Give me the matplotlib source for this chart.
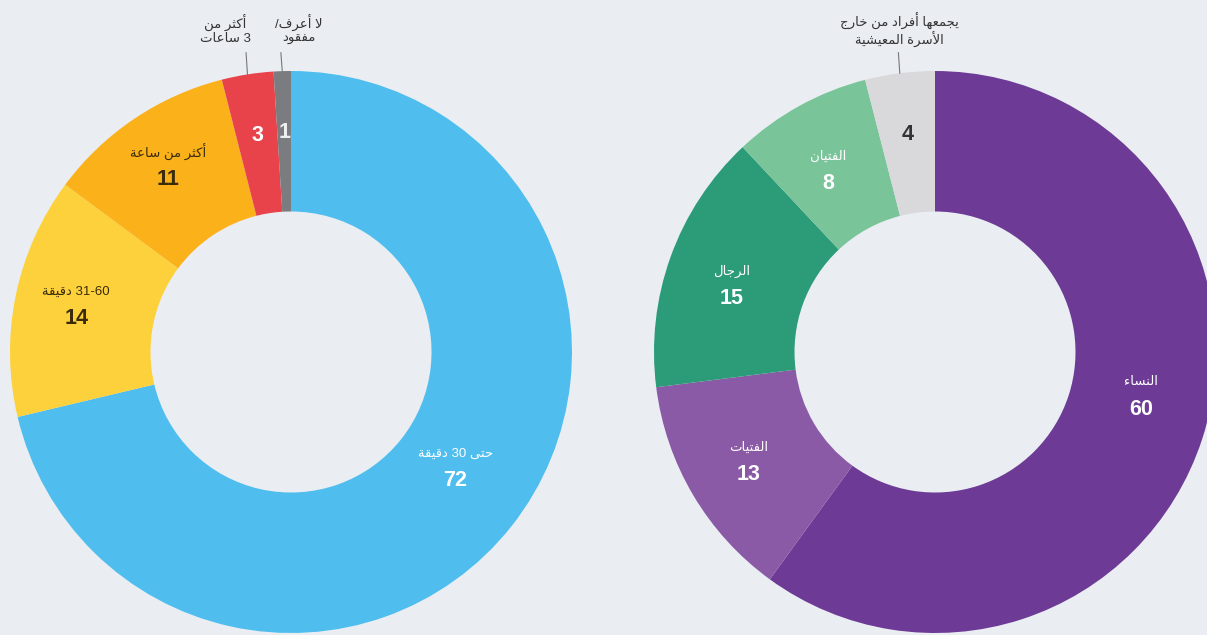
import re
import numpy as np
import matplotlib
matplotlib.use("Agg")
import matplotlib.pyplot as plt

# left donut: waiting time
wait_labels = ["حتى 30 دقيقة", "31-60 دقيقة", "أكثر من ساعة", "أكثر من\n3 ساعات", "لا أعرف/\nمفقود"]
wait_values = [72, 14, 11, 3, 1]
wait_colors = ["#4FBEEF", "#FDD13C", "#FBB11A", "#E8434A", "#7B7C80"]
wait_text = ["white", "#3A2C0A", "#3A2C0A", "white", "#EEEEEE"]
wait_nudge = [(-0.02, 0.065), (-0.01, 0.01), (-0.01, 0.02), (0, 0), (0, 0)]

# right donut: who collects the water
who_labels = ["النساء", "الفتيات", "الرجال", "الفتيان", "يجمعها أفراد من خارج\nالأسرة المعيشية"]
who_values = [60, 13, 15, 8, 4]
who_colors = ["#6D3B95", "#8B5AA6", "#2B9B78", "#7AC49A", "#D9D9DB"]
who_text = ["white", "white", "white", "white", "#333333"]
who_nudge = [(0, 0.08), (0, 0), (0, -0.025), (-0.01, -0.03), (0, 0)]

BG = "#EAEEF3"

# --- tiny arabic shaper (matplotlib does no shaping / bidi) ---
FOUR = {'ب': 0xFE8F, 'ت': 0xFE95, 'ث': 0xFE99, 'ج': 0xFE9D, 'ح': 0xFEA1, 'خ': 0xFEA5,
        'س': 0xFEB1, 'ش': 0xFEB5, 'ص': 0xFEB9, 'ض': 0xFEBD, 'ط': 0xFEC1, 'ظ': 0xFEC5,
        'ع': 0xFEC9, 'غ': 0xFECD, 'ف': 0xFED1, 'ق': 0xFED5, 'ك': 0xFED9, 'ل': 0xFEDD,
        'م': 0xFEE1, 'ن': 0xFEE5, 'ه': 0xFEE9, 'ي': 0xFEF1}
TWO = {'آ': 0xFE81, 'أ': 0xFE83, 'إ': 0xFE87, 'ا': 0xFE8D, 'ة': 0xFE93, 'د': 0xFEA9,
       'ذ': 0xFEAB, 'ر': 0xFEAD, 'ز': 0xFEAF, 'و': 0xFEED, 'ى': 0xFEEF}
LAM_ALEF = {'آ': 0xFEF5, 'أ': 0xFEF7, 'إ': 0xFEF9, 'ا': 0xFEFB}
FORMS = {c: tuple(b + k for k in range(4)) for c, b in FOUR.items()}
FORMS.update({c: (b, b + 1) for c, b in TWO.items()})
FORMS['ء'] = (0xFE80,)


def shape_line(w):
    toks = []
    i = 0
    while i < len(w):
        c = w[i]
        if c == 'ل' and i + 1 < len(w) and w[i + 1] in LAM_ALEF:
            b = LAM_ALEF[w[i + 1]]
            toks.append((b, b + 1))
            i += 2
            continue
        toks.append(FORMS.get(c, c))
        i += 1
    out = []
    for k, t in enumerate(toks):
        if isinstance(t, str):
            out.append(t)
            continue
        prev = toks[k - 1] if k > 0 else None
        nxt = toks[k + 1] if k + 1 < len(toks) else None
        jp = isinstance(prev, tuple) and len(prev) == 4 and len(t) > 1
        jn = len(t) == 4 and isinstance(nxt, tuple) and len(nxt) > 1
        idx = 3 if (jp and jn) else 1 if jp else 2 if jn else 0
        out.append(chr(t[idx]))
    s = ''.join(out)[::-1]
    # numbers stay left-to-right
    return re.sub(r'[0-9]+(?:-[0-9]+)*', lambda m: m.group(0)[::-1], s)


def ar(text):
    return '\n'.join(shape_line(line) for line in text.split('\n'))


plt.rcParams['font.family'] = ['Liberation Sans', 'DejaVu Sans']

fig = plt.figure(figsize=(12.07, 6.35), dpi=100, facecolor=BG)


def donut(cx, labels, values, colors, tcolors, nudge, n_out, out_dx):
    R = 281
    ax = fig.add_axes([(cx - R) / 1207, (283 - R) / 635, 2 * R / 1207, 2 * R / 635])
    ax.set_facecolor(BG)
    wedges, _ = ax.pie(values, colors=colors, startangle=90, counterclock=False,
                       wedgeprops=dict(width=0.5, linewidth=0))
    ax.set_xlim(-1, 1)
    ax.set_ylim(-1, 1)
    ax.set_aspect('equal')
    ax.axis('off')
    n = len(values)
    for i, (w, lab, v) in enumerate(zip(wedges, labels, values)):
        ang = np.deg2rad((w.theta1 + w.theta2) / 2)
        x, y = np.cos(ang), np.sin(ang)
        if i >= n - n_out:
            ax.text(0.78 * x, 0.78 * y, str(v), ha='center', va='center',
                    fontsize=15.5, fontweight='bold', color=tcolors[i])
            ax.plot([x, x - 0.005], [y, 1.065], color='#777777', lw=0.8, clip_on=False)
            ax.text(x + out_dx[i - (n - n_out)], 1.145, ar(lab), ha='center', va='center',
                    fontsize=9.5, color='#333333', linespacing=1.1, clip_on=False)
        else:
            px = 0.77 * x + nudge[i][0]
            py = 0.77 * y + nudge[i][1]
            ax.text(px, py + 0.05, ar(lab), ha='center', va='center',
                    fontsize=9.5, color=tcolors[i])
            ax.text(px, py - 0.045, str(v), ha='center', va='center',
                    fontsize=15.5, fontweight='bold', color=tcolors[i])
    return ax


donut(291, wait_labels, wait_values, wait_colors, wait_text, wait_nudge, 2, [-0.08, 0.06])
donut(935, who_labels, who_values, who_colors, who_text, who_nudge, 1, [0.0])

fig.savefig("out.png", dpi=100, facecolor=BG)
